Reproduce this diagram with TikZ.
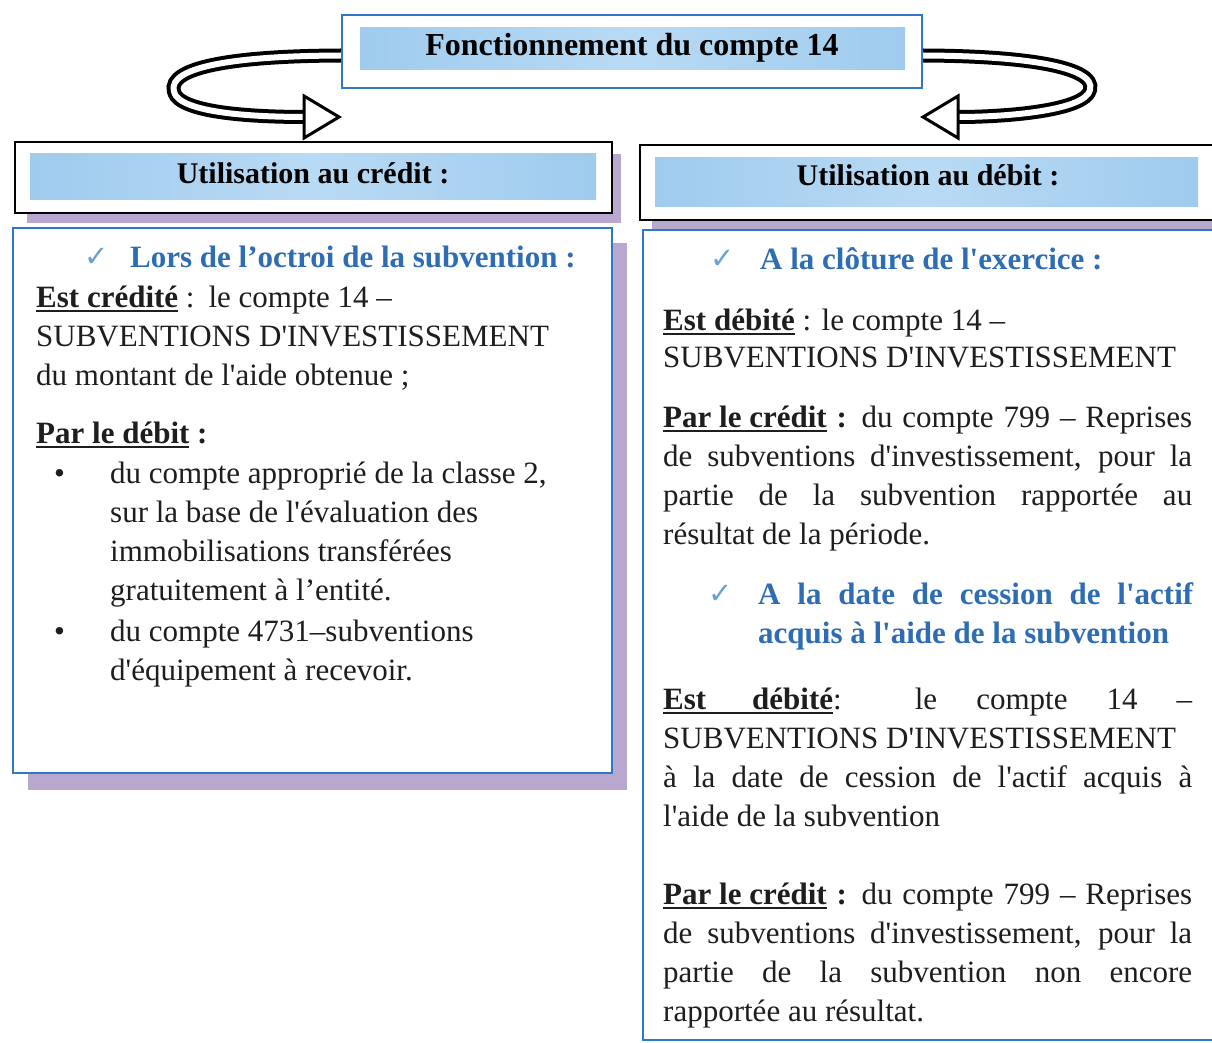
\documentclass[tikz,border=0pt]{standalone}
\usepackage{fontspec}
\setmainfont{Liberation Serif}
\newfontfamily\bodyfont{Liberation Serif}
\newfontfamily\dejavu{DejaVu Sans}
\definecolor{bodyc}{HTML}{1E1E1E}
\definecolor{headblue}{HTML}{2E6DB4}
\definecolor{checkblue}{HTML}{6C9FD6}
\definecolor{boxblue}{HTML}{2F78C8}
\definecolor{shadowc}{HTML}{B8A8CF}
\definecolor{bandA}{HTML}{9FCBEE}
\definecolor{bandB}{HTML}{B9DAF4}
\newcommand\myul[1]{\setbox0=\hbox{#1}\rlap{\rule[-4.5pt]{\wd0}{1.8pt}}\box0\relax}
\newcommand\jl[1]{\hbox to 529pt{#1}}
\tikzset{
  txt/.style={anchor=base west, inner sep=0pt, font=\bodyfont\fontsize{31}{39}\selectfont, text=bodyc},
  hd/.style={anchor=base west, inner sep=0pt, font=\bodyfont\bfseries\fontsize{31}{39}\selectfont, text=headblue},
  chk/.style={anchor=base west, inner sep=0pt, font=\dejavu\fontsize{29}{29}\selectfont, text=checkblue},
  hdr/.style={draw=black, line width=2.2pt, fill=white, inner sep=0pt},
  content/.style={draw=boxblue, line width=2.6pt, fill=white, inner sep=0pt},
  band/.style={left color=bandA, right color=bandA, middle color=bandB},
  hdrtxt/.style={inner sep=0pt, font=\bodyfont\bfseries\fontsize{30}{36}\selectfont, text=black},
  ribbonout/.style={line width=14pt, black},
  ribbonin/.style={line width=6pt, white},
  ahead/.style={fill=white, draw=black, line width=3pt, line join=miter}
}
\begin{document}
\begin{tikzpicture}[x=1pt,y=-1pt]
\fill[white] (0,0) rectangle (1212,1043);
\useasboundingbox (0,0) rectangle (1212,1043);

% title
\node[draw=boxblue, line width=2.2pt, fill=white, minimum width=580pt, minimum height=73pt, inner sep=0pt] (title) at (632,51.5) {};
\shade[band] (360,28) rectangle (905,70);
\node[inner sep=0pt, font=\bodyfont\bfseries\fontsize{32}{36}\selectfont] (titletxt) at (632,48) {Fonctionnement du compte 14};

% ribbon arrows
\coordinate (ltip) at (339,117);
\coordinate (rtip) at (923,117);
\draw[ribbonout] ([yshift=-4pt]title.west) .. controls (220,56) and (160,70) .. (176,96) .. controls (190,114) and (260,117) .. (306,117);
\draw[ribbonin] ([yshift=-4pt]title.west) .. controls (220,56) and (160,70) .. (176,96) .. controls (190,114) and (260,117) .. (306,117);
\draw[ahead] (304,96) -- (ltip) -- (304,138) -- cycle;
\draw[ribbonout] ([yshift=-4pt]title.east) .. controls (1040,56) and (1104,70) .. (1088,94) .. controls (1074,112) and (1000,117) .. (958,117);
\draw[ribbonin] ([yshift=-4pt]title.east) .. controls (1040,56) and (1104,70) .. (1088,94) .. controls (1074,112) and (1000,117) .. (958,117);
\draw[ahead] (958,96) -- (rtip) -- (958,138) -- cycle;

% shadows
\fill[shadowc] (27,154) rectangle (621,223);
\fill[shadowc] (28,243) rectangle (627,790);
\fill[shadowc] (652,156) rectangle (1214,229);

% headers
\node[hdr, minimum width=597pt, minimum height=71pt] (hl) at (313.5,177.5) {};
\shade[band] (30,154) rectangle (596,200);
\node[hdrtxt] (hltxt) at (313,173) {Utilisation au crédit :};
\node[hdr, minimum width=574pt, minimum height=75pt] (hr) at (927,182.5) {};
\shade[band] (655,158) rectangle (1198,207);
\node[hdrtxt] (hrtxt) at (928,175) {Utilisation au débit :};

% content boxes
\node[content, minimum width=599pt, minimum height=545pt] (bl) at (312.5,500.5) {};
\node[content, minimum width=571pt, minimum height=810pt] (br) at (928.5,635) {};

% left content
\node[chk] (c1) at (84,266) {✓};
\node[hd] (h1) at (130,267) {Lors de l’octroi de la subvention :};
\node[txt] (a1) at (36,307) {\myul{\bfseries Est crédité} :\hspace{14pt}le compte 14 –};
\node[txt] (a2) at (36,346) {SUBVENTIONS D'INVESTISSEMENT};
\node[txt] (a3) at (36,385) {du montant de l'aide obtenue ;};
\node[txt] (a4) at (36,443) {\bfseries\myul{Par le débit} :};
\node[txt] (b1) at (54,483) {•};
\node[txt] (a5) at (110,483) {du compte approprié de la classe 2,};
\node[txt] (a6) at (110,522) {sur la base de l'évaluation des};
\node[txt] (a7) at (110,561) {immobilisations transférées};
\node[txt] (a8) at (110,600) {gratuitement à l’entité.};
\node[txt] (b2) at (54,641) {•};
\node[txt] (a9) at (110,641) {du compte 4731–subventions};
\node[txt] (a10) at (110,680) {d'équipement à recevoir.};

% right content
\node[chk] (c2) at (710,268) {✓};
\node[hd] (h2) at (760,269) {A la clôture de l'exercice :};
\node[txt] (r1) at (663,330) {\myul{\bfseries Est débité} : le compte 14 –};
\node[txt] (r2) at (663,367) {SUBVENTIONS D'INVESTISSEMENT};
\node[txt] (r3) at (663,427) {\jl{\myul{\bfseries Par le crédit} \textbf{:} du compte 799 – Reprises}};
\node[txt] (r4) at (663,466) {\jl{de subventions d'investissement, pour la}};
\node[txt] (r5) at (663,505) {\jl{partie de la subvention rapportée au}};
\node[txt] (r6) at (663,544) {résultat de la période.};
\node[chk] (c3) at (708,603) {✓};
\node[hd] (h3) at (758,604) {\hbox to 435pt{A la date de cession de l'actif}};
\node[hd] (h4) at (758,643) {acquis à l'aide de la subvention};
\node[txt] (r7) at (663,709) {\jl{\myul{\bfseries\hbox to 170pt{Est\hfill débité}}: le compte 14 –}};
\node[txt] (r8) at (663,748) {SUBVENTIONS D'INVESTISSEMENT};
\node[txt] (r9) at (663,787) {\jl{à la date de cession de l'actif acquis à}};
\node[txt] (r10) at (663,826) {l'aide de la subvention};
\node[txt] (r11) at (663,904) {\jl{\myul{\bfseries Par le crédit} \textbf{:} du compte 799 – Reprises}};
\node[txt] (r12) at (663,943) {\jl{de subventions d'investissement, pour la}};
\node[txt] (r13) at (663,982) {\jl{partie de la subvention non encore}};
\node[txt] (r14) at (663,1021) {rapportée au résultat.};
\end{tikzpicture}
\end{document}
